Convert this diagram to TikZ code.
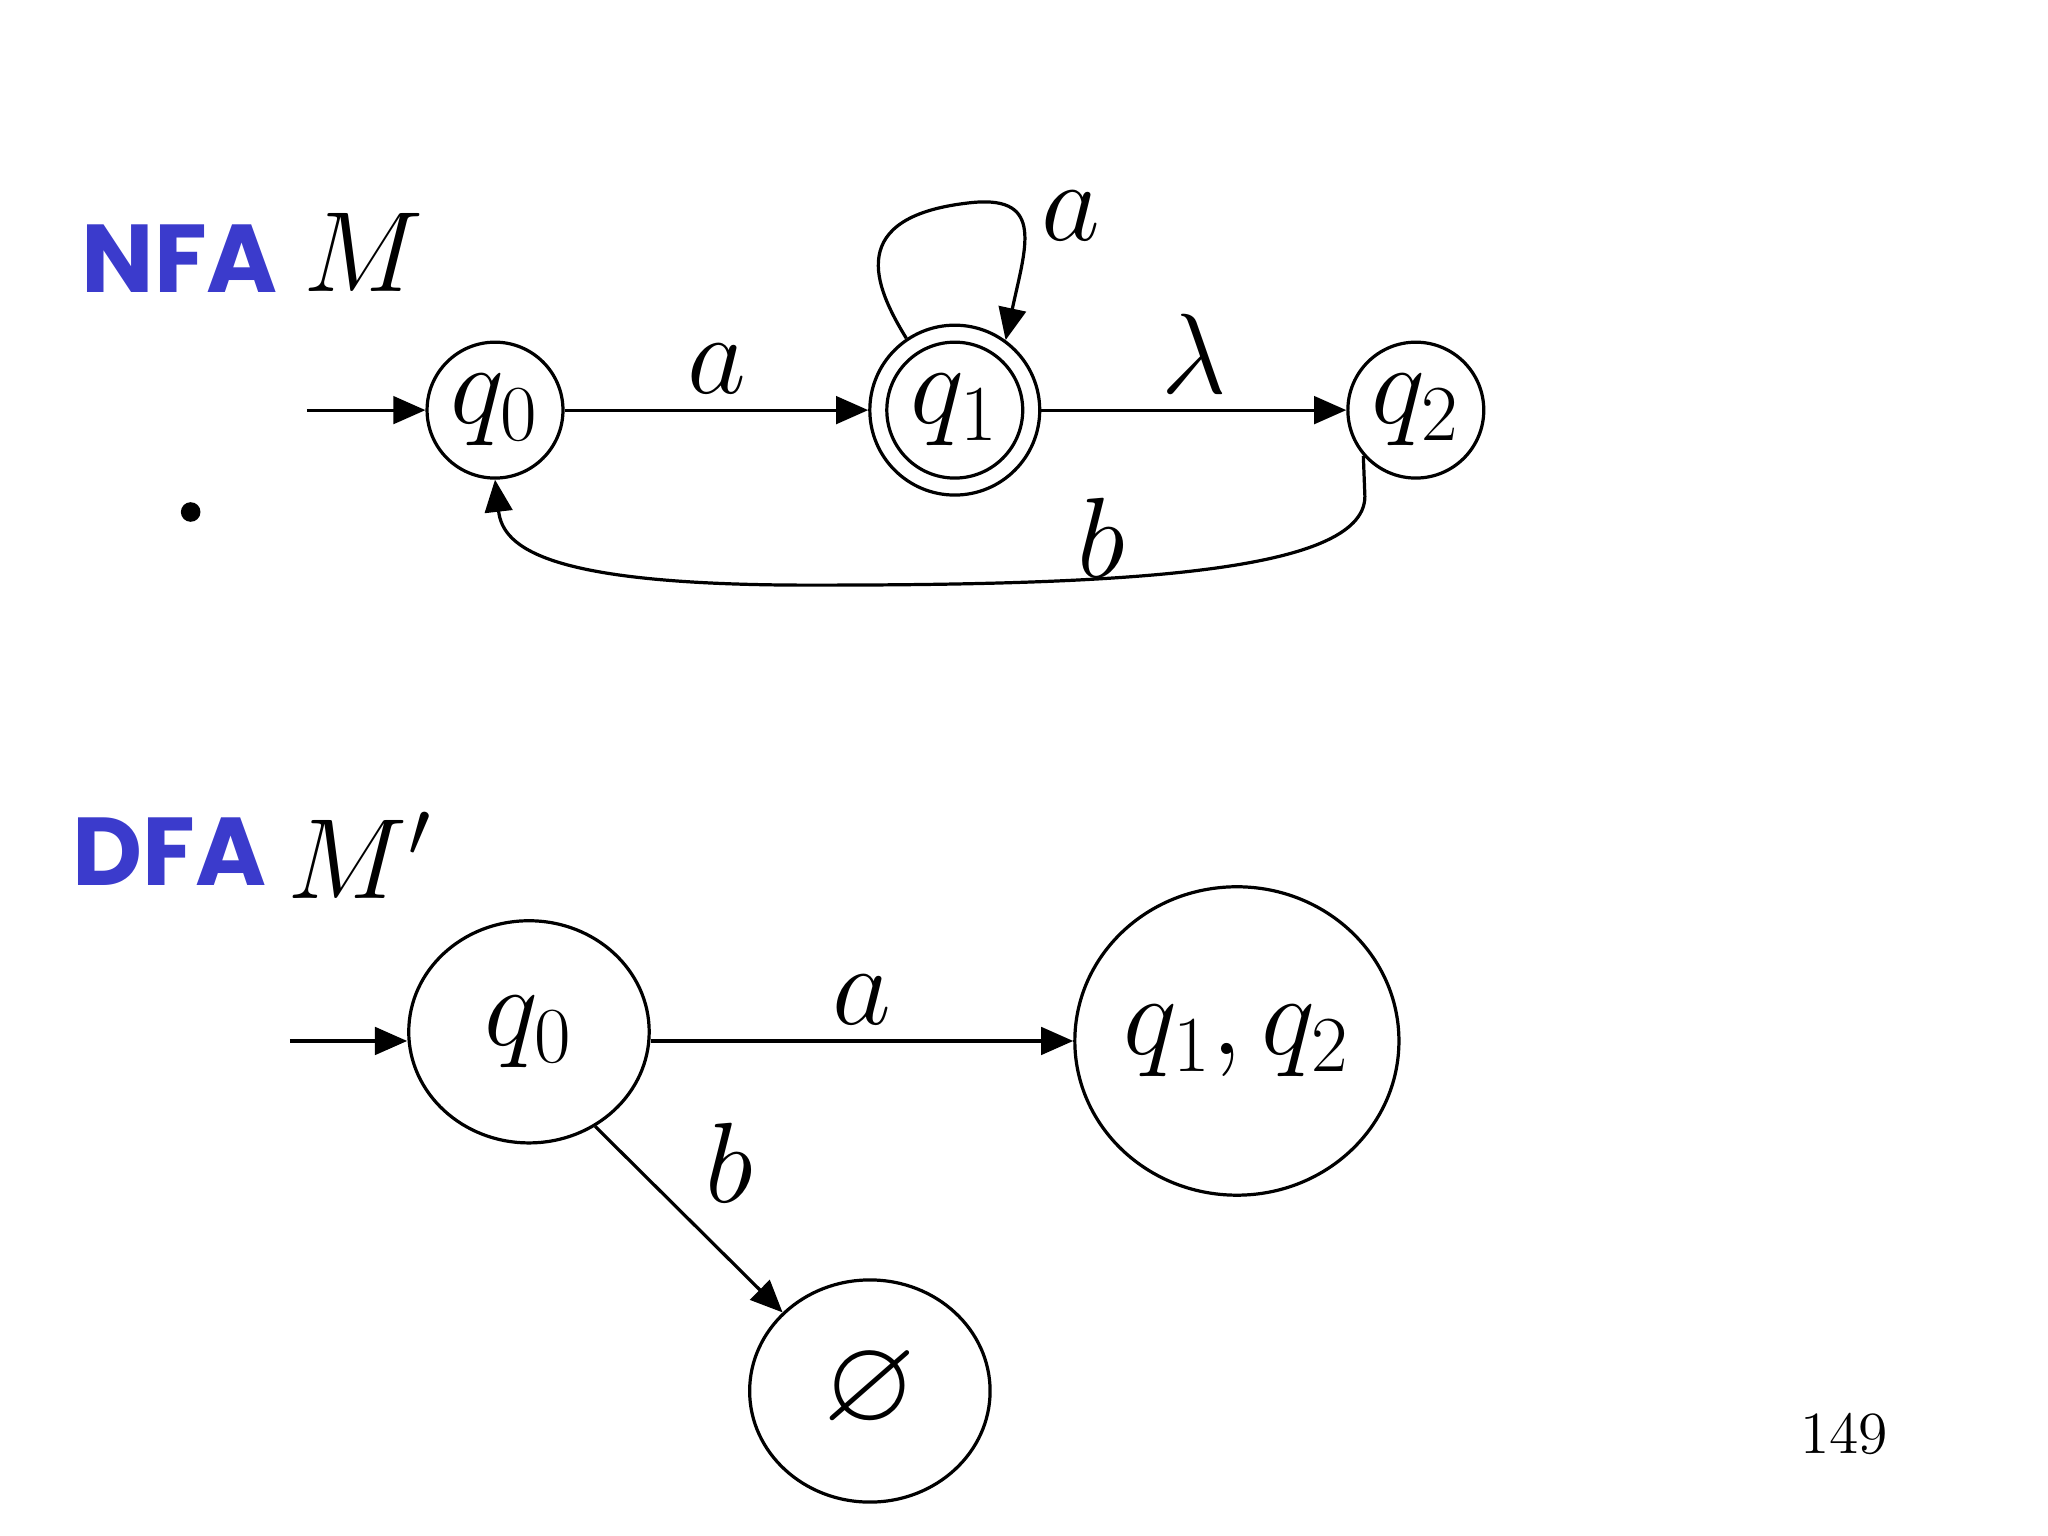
\documentclass[tikz,border=0pt]{standalone}
\usepackage{amssymb}
\usepackage{fontspec}
\usetikzlibrary{arrows.meta,shapes.geometric}
\newfontfamily\titlefont{Poppins}
\definecolor{ttlblue}{rgb}{0.23,0.23,0.8}
\begin{document}
\begin{tikzpicture}[x=0.01cm,y=-0.01cm,
  big/.style={font=\fontsize{26}{30}\selectfont},
  st/.style={circle,draw,line width=0.7pt,minimum size=1.04cm,inner sep=0pt,big},
  el/.style={ellipse,draw,line width=0.7pt,inner sep=0pt,big},
  ar/.style={line width=0.7pt,-{Triangle[length=7pt,width=6pt]}},
  ttl/.style={font=\titlefont\bfseries\fontsize{21}{25}\selectfont,text=ttlblue}]
\useasboundingbox (0,0) rectangle (1568,1176);
\node[ttl,anchor=west] (nfa) at (50,198) {NFA};
\node[big,anchor=west] (m) at (220,193) {$M$};
\node[st] (q0) at (379,314) {$q_0$};
\node[circle,draw,line width=0.7pt,minimum size=1.3cm,inner sep=0pt] (q1) at (731,314) {};
\node[st] (q1i) at (731,314) {$q_1$};
\node[st] (q2) at (1084,314) {$q_2$};
\coordinate (s1) at (235,314);
\draw[ar] (s1) -- (q0);
\draw[ar] (q0) -- node[above,big]{$a$} (q1);
\draw[ar] (q1) -- node[above,big,pos=0.5]{$\lambda$} (q2);
\draw[ar] (q1.124) .. controls (670,220) and (645,165) .. (745,155) .. controls (800,150) and (785,190) .. (q1.54);
\node[big] (la) at (820,165) {$a$};
\draw[ar] (q2.221) -- (1045,380) .. controls (1045,440) and (850,448) .. (620,448) .. controls (420,448) and (385,420) .. (q0.south);
\node[big] (lb) at (843,412) {$b$};
\node[circle,fill,inner sep=0pt,minimum size=0.15cm] (dot) at (146,392) {};
\node[ttl,anchor=west] (dfa) at (43,652) {DFA};
\node[big,anchor=west] (m2) at (208,655) {$M'$};
\node[el,minimum width=1.84cm,minimum height=1.7cm] (d0) at (405,790) {$q_0$};
\node[el,minimum width=2.48cm,minimum height=2.36cm] (d1) at (947,797) {$q_1,q_2$};
\node[el,minimum width=1.84cm,minimum height=1.7cm] (d2) at (666,1065) {$\varnothing$};
\coordinate (s2) at (222,797);
\draw[ar] (s2) -- (s2 -| d0.west);
\draw[ar] (d0.east |- s2) -- node[above,big]{$a$} (d1.west |- s2);
\draw[ar] (d0.-55) -- node[above right,big]{$b$} (d2.138);
\node[font=\fontsize{13}{15}\selectfont] (pg) at (1412,1098) {149};
\end{tikzpicture}
\end{document}
